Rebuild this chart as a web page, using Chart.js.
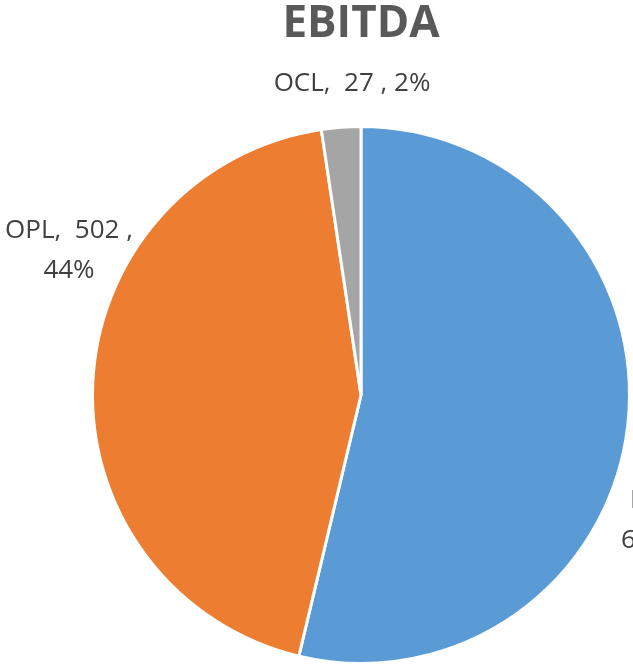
<!DOCTYPE html>
<html>
<head>
<meta charset="utf-8">
<script src="https://cdn.jsdelivr.net/npm/chart.js@4"></script>
<style>
  html, body { margin: 0; padding: 0; background: #fff; }
  #wrap { width: 633px; height: 665px; }
</style>
</head>
<body>
<div id="wrap"><canvas id="pieChart" width="633" height="665"></canvas></div>
<script>
const title = "EBITDA";
const categories = ["IPL", "OPL", "OCL"];
const values = [614, 502, 27];
const percents = [54, 44, 2];

const colors = ["#5B9BD5", "#ED7D31", "#A5A5A5"];
// label placement relative to pie centre (style only)
const labelStyles = [
  { dx: 260, dy: 126, align: "left", indent: [9, 0],
    lines: (c, v, p) => [c + ",", v + " , " + p + "%"] },
  { dx: -292, dy: -144, align: "center", indent: [0, 0],
    lines: (c, v, p) => [c + ",  " + v + " ,", p + "%"] },
  { dx: -9, dy: -311, align: "center", indent: [0],
    lines: (c, v, p) => [c + ",  " + v + " , " + p + "%"] },
];

const labelPlugin = {
  id: "sliceLabels",
  afterDatasetsDraw(chart) {
    const ctx = chart.ctx;
    const meta = chart.getDatasetMeta(0);
    ctx.save();
    ctx.fillStyle = "#404040";
    ctx.font = "26px 'Open Sans', sans-serif";
    ctx.textBaseline = "middle";
    meta.data.forEach((arc, i) => {
      const s = labelStyles[i];
      const lines = s.lines(categories[i], values[i], percents[i]);
      const lh = 40;
      ctx.textAlign = s.align;
      const y0 = arc.y + s.dy - ((lines.length - 1) * lh) / 2;
      lines.forEach((t, k) => ctx.fillText(t, arc.x + s.dx + s.indent[k], y0 + k * lh));
    });
    // title
    ctx.fillStyle = "#595959";
    ctx.textAlign = "center";
    ctx.font = "bold 44px 'Open Sans', sans-serif";
    ctx.fillText(title, meta.data[0].x, 24);
    ctx.restore();
  },
};

const ctx = document.getElementById("pieChart").getContext("2d");
const pieChart = new Chart(ctx, {
  type: "pie",
  data: {
    labels: categories,
    datasets: [
      {
        data: values,
        backgroundColor: colors,
        borderColor: "#ffffff",
        borderWidth: 3,
      },
    ],
  },
  options: {
    responsive: false,
    animation: false,
    layout: {
      padding: { left: 90, right: 1, top: 125, bottom: -1 },
    },
    plugins: {
      legend: { display: false },
      tooltip: { enabled: false },
    },
  },
  plugins: [labelPlugin],
});
</script>
</body>
</html>
